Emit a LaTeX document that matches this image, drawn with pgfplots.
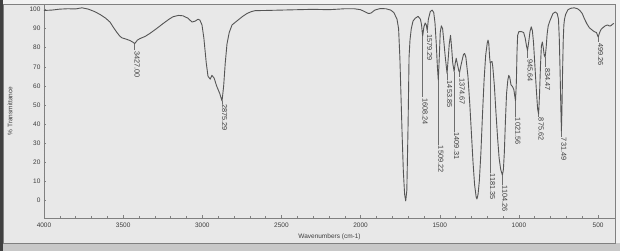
\documentclass[border=0pt]{standalone}
\usepackage{fontspec}
\setmainfont{Liberation Sans}
\usepackage{pgfplots}
\pgfplotsset{compat=1.18}
\definecolor{outerbg}{HTML}{F2F2F2}
\definecolor{panelbg}{HTML}{E8E8E8}
\definecolor{bandbg}{HTML}{C8C8C8}
\definecolor{curvecol}{HTML}{555555}
\definecolor{axisgray}{HTML}{808080}
\definecolor{leadcol}{HTML}{6E6E6E}
\definecolor{txt}{HTML}{3C3C3C}
\newcommand\pk[3]{%
  \draw[leadcol, line width=0.6pt] (axis cs:#1,#2) -- (axis cs:#1,#3);
  \node[rotate=-90, anchor=base west, inner sep=0.6pt, text=txt, font=\fontsize{7.3}{8}\selectfont] at (axis cs:#1,#3) {#1};
}
\begin{document}
\begin{tikzpicture}
\useasboundingbox (0pt,0pt) rectangle (620pt,251pt);
\fill[outerbg] (0pt,0pt) rectangle (620pt,251pt);
\fill[bandbg] (0pt,0pt) rectangle (620pt,8pt);
\fill[panelbg] (3pt,8pt) rectangle (615pt,247pt);
\draw[axisgray, line width=0.8pt] (3pt,8pt) rectangle (615pt,247pt);
\draw[black!75, line width=2.5pt] (1.25pt,0pt) -- (1.25pt,251pt);
\begin{axis}[
  at={(44pt,33pt)}, anchor=south west,
  scale only axis, width=571pt, height=214pt,
  x dir=reverse, xmin=393, xmax=4000, ymin=-9.5, ymax=103,
  clip=false,
  axis line style={axisgray, line width=0.6pt},
  xtick={500,1000,...,4000}, minor x tick num=4,
  ytick={0,10,...,100}, minor y tick num=4,
  tick pos=left, tick align=inside,
  major tick length=2.5pt, minor tick length=1.5pt,
  tick style={axisgray, line width=0.5pt},
  scaled x ticks=false,
  /pgf/number format/assume math mode=true,
  /pgf/number format/set thousands separator={},
  tick label style={font=\fontsize{6.5}{7}\selectfont, text=txt},
  xticklabel style={yshift=-1pt},
  xlabel={Wavenumbers (cm-1)},
  xlabel style={at={(axis description cs:0.5,0)}, anchor=center, yshift=-19pt, font=\fontsize{6.5}{7}\selectfont, text=txt},
  ylabel={\% Transmittance},
  ylabel style={at={(axis description cs:-0.0595,0.5)}, anchor=center, font=\fontsize{6.5}{7}\selectfont, text=txt},
]
\addplot[curvecol, line width=0.9pt, line join=round] coordinates {
(4000,99.6) (3950,99.8) (3900,100.3) (3850,100.5) (3800,100.4) (3760,101) (3720,100.3)
(3680,99) (3646,97.5) (3610,95.5) (3583,93.5) (3560,90.5) (3539,88) (3520,86) (3507,85.2)
(3480,84.5) (3457,83.8) (3440,83) (3427,82.2) (3410,84) (3394,84.8) (3360,86) (3330,87.6)
(3290,90) (3248,92.7) (3210,95) (3185,96.3) (3150,97) (3122,96.8) (3090,95.5) (3065,93.5)
(3045,94) (3027,95) (3015,94.5) (3002,92) (2990,85) (2975,72) (2964,65) (2950,63.5)
(2939,65.5) (2925,64) (2910,60) (2890,56) (2875.29,52) (2865,60) (2855,72) (2844,82)
(2830,88) (2812,92) (2790,93.5) (2775,94.5) (2745,96.5) (2718,98) (2690,99) (2667,99.5)
(2600,99.6) (2500,99.8) (2400,100) (2300,100.2) (2200,100) (2100,100.5) (2040,100.5)
(2000,100) (1975,99) (1950,98) (1935,98.2) (1910,99.8) (1877,100.6) (1840,100.5)
(1810,99.8) (1790,98.5) (1770,95) (1760,90) (1752,75) (1745,55) (1738,35) (1730,15)
(1722,3) (1715,-0.5) (1708,5) (1700,40) (1694,75) (1688,84) (1680,90) (1669,94)
(1655,95.5) (1637,96.5) (1622,95) (1615,92) (1608.24,86) (1600,91) (1592,93) (1585,92)
(1579.29,89) (1572,95) (1560,99) (1548,99.8) (1538,98.5) (1530,93) (1522,82) (1515,70)
(1509.22,63) (1503,75) (1497,88) (1490,91.5) (1482,90) (1475,84) (1465,75) (1453.85,66.5)
(1446,75) (1440,82) (1432,86.5) (1425,80) (1418,72) (1409.31,67.5) (1402,72) (1396,74.5)
(1390,72) (1380,68) (1374.67,67) (1368,70) (1360,73) (1350,76.5) (1343,77) (1335,75)
(1322,65) (1310,50) (1300,35) (1290,20) (1280,8) (1270,1.5) (1265,0.5) (1258,3)
(1250,10) (1240,25) (1230,45) (1220,63) (1210,76) (1200,82.5) (1195,84) (1190,82)
(1185,75) (1181.35,72) (1176,72.5) (1170,72.8) (1165,70) (1155,60) (1145,46) (1135,33)
(1125,22) (1115,16) (1104.26,13) (1098,16) (1092,25) (1085,42) (1078,56) (1070,63)
(1064,65.5) (1058,64.5) (1050,60.5) (1040,59.5) (1032,58) (1021.56,52) (1016,62)
(1012,78) (1008,86.5) (1000,88.5) (985,88.5) (970,88) (960,85) (952,81) (945.64,78.5)
(938,83) (930,88.5) (922,91) (915,89) (908,83) (900,72) (890,58) (882,48) (875.62,45)
(870,55) (864,70) (858,81) (852,83) (846,80) (840,76) (834.47,75) (828,80) (822,87)
(815,91.5) (805,94) (795,96) (785,98) (770,98.8) (758,98) (750,95) (745,85) (740,68)
(735,48) (731.49,36) (728,48) (724,68) (720,84) (716,92) (712,95) (705,97.5) (690,100)
(670,100.8) (650,101) (630,100.5) (615,99.6) (600,98) (585,95) (570,92.5) (555,90.5)
(540,89.5) (525,88.5) (510,88) (499.26,85.6) (490,88) (482,89.5) (470,90.5) (455,91.5)
(440,92) (430,91.5) (420,91.5) (410,92.3) (400,92.8)
};
\pk{3427.00}{82.2}{78.7}
\pk{2875.29}{52}{50.5}
\pk{1608.24}{86}{54}
\pk{1579.29}{89}{87.6}
\pk{1509.22}{63}{28.8}
\pk{1453.85}{66.5}{63}
\pk{1409.31}{67.5}{35.7}
\pk{1374.67}{67}{64.5}
\pk{1181.35}{72}{14.2}
\pk{1104.26}{13}{7.9}
\pk{1021.56}{52}{43.5}
\pk{945.64}{78.5}{74.5}
\pk{875.62}{45}{43.5}
\pk{834.47}{75}{69.7}
\pk{731.49}{36}{33}
\pk{499.26}{85.6}{82.9}
\end{axis}
\end{tikzpicture}
\end{document}
